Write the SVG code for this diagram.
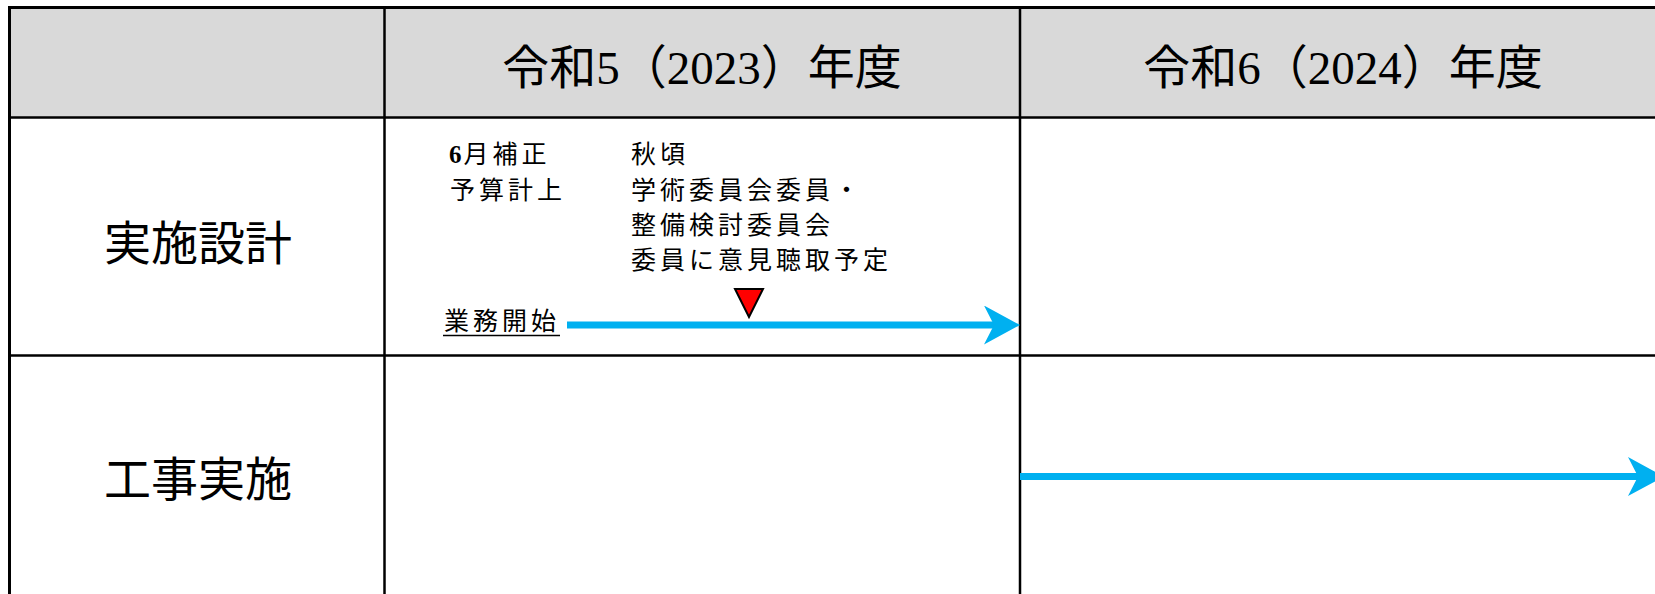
<svg xmlns="http://www.w3.org/2000/svg" width="1655" height="594" viewBox="0 0 1655 594">
  <style>
    .txt { font-family: "Liberation Serif", "Noto Sans CJK JP", serif; fill: #000; }
    .hdr { font-size: 47px; text-anchor: middle; }
    .row { font-size: 47px; text-anchor: middle; }
    .note { font-size: 25px; letter-spacing: 4px; }
    .grid { stroke: #000; stroke-width: 2.5; fill: none; }
    .outer { stroke: #000; stroke-width: 3; fill: none; }
    .flow { stroke: #00B0F0; stroke-width: 7; fill: none; marker-end: url(#arrow); }
  </style>
  <defs>
    <marker id="arrow" markerUnits="userSpaceOnUse" markerWidth="36" markerHeight="39" viewBox="0 0 36 39" refX="16" refY="19.5" orient="auto">
      <path d="M0,0 L36,19.5 L0,39 L10,19.5 Z" fill="#00B0F0"/>
    </marker>
  </defs>
  <rect x="0" y="0" width="1655" height="594" fill="#fff"/>

  <g id="table">
    <rect x="9.5" y="7.5" width="1680" height="110" fill="#D9D9D9"/>
    <line class="grid" x1="9.5" y1="117.5" x2="1655" y2="117.5"/>
    <line class="grid" x1="9.5" y1="355.5" x2="1655" y2="355.5"/>
    <line class="grid" x1="384.5" y1="7.5" x2="384.5" y2="594"/>
    <line class="grid" x1="1020" y1="7.5" x2="1020" y2="594"/>
    <line class="outer" x1="8" y1="7.5" x2="1655" y2="7.5"/>
    <line class="outer" x1="9.5" y1="6" x2="9.5" y2="594"/>
  </g>

  <g id="header-r5">
    <text class="txt hdr" x="702" y="84">令和5（2023）年度</text>
  </g>
  <g id="header-r6">
    <text class="txt hdr" x="1343" y="84">令和6（2024）年度</text>
  </g>

  <g id="row-design">
    <text class="txt row" x="198" y="260">実施設計</text>
  </g>
  <g id="row-construction">
    <text class="txt row" x="198" y="496">工事実施</text>
  </g>

  <g id="note-budget">
    <text class="txt note" x="449" y="163"><tspan font-weight="bold" letter-spacing="2">6</tspan>月補正</text>
    <text class="txt note" x="450" y="199">予算計上</text>
  </g>
  <g id="note-hearing">
    <text class="txt note" x="631" y="163">秋頃</text>
    <text class="txt note" x="631" y="199">学術委員会委員・</text>
    <text class="txt note" x="631" y="234">整備検討委員会</text>
    <text class="txt note" x="631" y="269">委員に意見聴取予定</text>
  </g>
  <g id="note-start">
    <text class="txt note" x="444" y="330">業務開始</text>
    <line x1="443" y1="335.5" x2="560" y2="335.5" stroke="#000" stroke-width="1.5"/>
  </g>
  <g id="milestone">
    <polygon points="735,289 763,289 749,317" fill="#FF0000" stroke="#000" stroke-width="2" stroke-linejoin="miter"/>
  </g>

  <g id="connectors">
    <line class="flow" x1="567" y1="325" x2="1000" y2="325"/>
    <line class="flow" x1="1020" y1="476.5" x2="1644" y2="476.5"/>
  </g>
</svg>
